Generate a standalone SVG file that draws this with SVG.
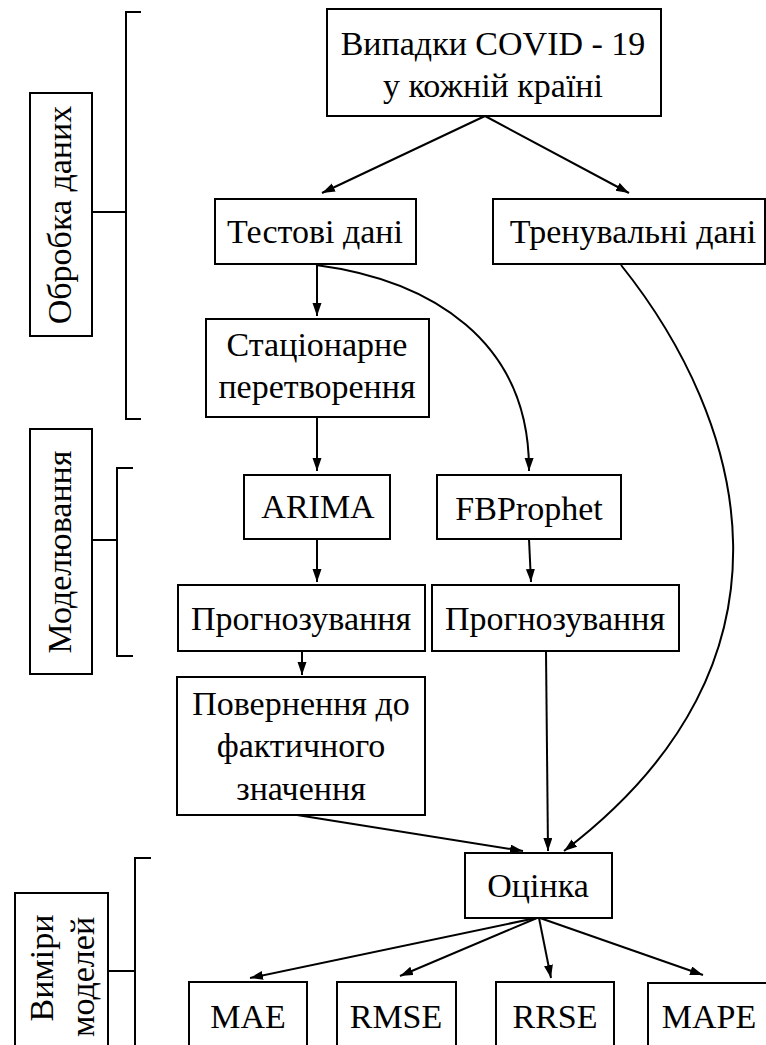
<svg xmlns="http://www.w3.org/2000/svg" width="766" height="1045" viewBox="0 0 766 1045">
<style>
  .box { fill: #ffffff; stroke: #000000; stroke-width: 2; }
  .ln { fill: none; stroke: #000000; stroke-width: 2; }
</style>
<defs>
  <marker id="ah" markerUnits="userSpaceOnUse" markerWidth="14" markerHeight="10" refX="13" refY="4.5" orient="auto">
    <path d="M0,0 L13,4.5 L0,9 z" fill="#000000"/>
  </marker>
</defs>
<rect width="766" height="1045" fill="#ffffff"/>

<g id="brackets">
  <polyline class="ln" points="141,12 126,12 126,419 141,419"/>
  <line class="ln" x1="92" y1="212" x2="126" y2="212"/>
  <polyline class="ln" points="133,468 117,468 117,656 133,656"/>
  <line class="ln" x1="92" y1="540" x2="117" y2="540"/>
  <polyline class="ln" points="151,858 135,858 135,1050"/>
  <line class="ln" x1="108" y1="971" x2="135" y2="971"/>
</g>

<g id="connectors" marker-end="url(#ah)">
  <line class="ln" x1="485" y1="116" x2="322" y2="193"/>
  <line class="ln" x1="485" y1="116" x2="629" y2="193"/>
  <line class="ln" x1="317" y1="264" x2="317" y2="316"/>
  <path class="ln" d="M316,265 C430,280 530,340 529,471"/>
  <path class="ln" d="M621,265 C745,420 815,660 564,851"/>
  <line class="ln" x1="317" y1="417" x2="317" y2="471"/>
  <line class="ln" x1="317" y1="539" x2="317" y2="582"/>
  <line class="ln" x1="529" y1="539" x2="531" y2="582"/>
  <line class="ln" x1="302" y1="651" x2="302" y2="675"/>
  <line class="ln" x1="297" y1="815" x2="523" y2="851"/>
  <line class="ln" x1="546" y1="651" x2="548" y2="851"/>
  <line class="ln" x1="536" y1="918" x2="250" y2="978"/>
  <line class="ln" x1="537" y1="918" x2="400" y2="976"/>
  <line class="ln" x1="539" y1="918" x2="551" y2="978"/>
  <line class="ln" x1="540" y1="918" x2="703" y2="975"/>
</g>

<g id="nodes" font-family="Liberation Serif" font-size="34" text-anchor="middle">
<g id="label-obrobka">
  <rect class="box" x="30" y="93" width="62" height="243"/>
  <text transform="translate(71,215) rotate(-90)">Обробка даних</text>
</g>
<g id="label-modeliuvannia">
  <rect class="box" x="30" y="429" width="62" height="245"/>
  <text transform="translate(71,552) rotate(-90)">Моделювання</text>
</g>
<g id="label-vymiry">
  <rect class="box" x="15" y="893" width="93" height="160"/>
  <text transform="translate(53,968) rotate(-90)">Виміри</text>
  <text transform="translate(94,977) rotate(-90)">моделей</text>
</g>

<g id="node-covid">
  <rect class="box" x="327" y="9" width="334" height="107"/>
  <text x="493" y="55">Випадки COVID - 19</text>
  <text x="493" y="97">у кожній країні</text>
</g>
<g id="node-test">
  <rect class="box" x="215" y="199" width="201" height="65"/>
  <text x="315" y="243">Тестові дані</text>
</g>
<g id="node-train">
  <rect class="box" x="493" y="199" width="272" height="65"/>
  <text x="633" y="243">Тренувальні дані</text>
</g>
<g id="node-stationary">
  <rect class="box" x="206" y="319" width="223" height="98"/>
  <text x="317" y="356">Стаціонарне</text>
  <text x="317" y="398">перетворення</text>
</g>
<g id="node-arima">
  <rect class="box" x="244" y="475" width="146" height="64"/>
  <text x="318" y="518">ARIMA</text>
</g>
<g id="node-fbprophet">
  <rect class="box" x="437" y="475" width="184" height="64"/>
  <text x="529" y="520">FBProphet</text>
</g>
<g id="node-forecast-arima">
  <rect class="box" x="178" y="585" width="247" height="66"/>
  <text x="301" y="630">Прогнозування</text>
</g>
<g id="node-forecast-prophet">
  <rect class="box" x="432" y="585" width="247" height="66"/>
  <text x="555" y="630">Прогнозування</text>
</g>
<g id="node-return">
  <rect class="box" x="177" y="677" width="248" height="138"/>
  <text x="301" y="715">Повернення до</text>
  <text x="301" y="757">фактичного</text>
  <text x="301" y="800">значення</text>
</g>
<g id="node-eval">
  <rect class="box" x="465" y="853" width="147" height="65"/>
  <text x="538" y="897">Оцінка</text>
</g>
<g id="node-mae">
  <rect class="box" x="189" y="982" width="118" height="70"/>
  <text x="248" y="1028">MAE</text>
</g>
<g id="node-rmse">
  <rect class="box" x="337" y="982" width="119" height="70"/>
  <text x="396" y="1028">RMSE</text>
</g>
<g id="node-rrse">
  <rect class="box" x="496" y="982" width="118" height="70"/>
  <text x="555" y="1028">RRSE</text>
</g>
<g id="node-mape">
  <rect class="box" x="648" y="983" width="125" height="70"/>
  <text x="709" y="1028">MAPE</text>
</g>
</g>
</svg>
